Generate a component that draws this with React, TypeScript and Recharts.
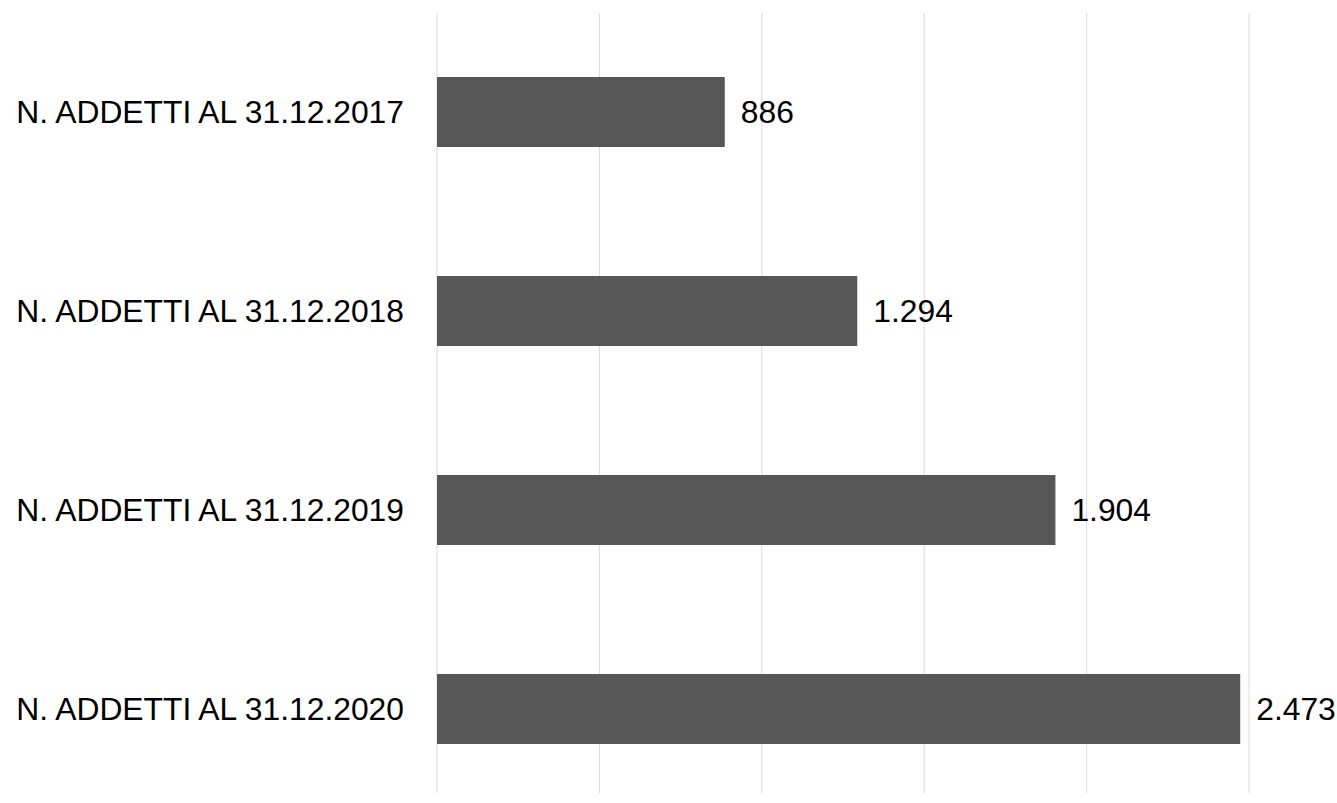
import { BarChart, Bar, XAxis, YAxis, CartesianGrid, LabelList } from 'recharts'

const categories = [
  'N. ADDETTI AL 31.12.2017',
  'N. ADDETTI AL 31.12.2018',
  'N. ADDETTI AL 31.12.2019',
  'N. ADDETTI AL 31.12.2020',
]
const addetti = [886, 1294, 1904, 2473]
const xTicks = [0, 500, 1000, 1500, 2000, 2500]

const data = categories.map((name, i) => ({ name, value: addetti[i] }))

const fmt = (v: number) => String(v).replace(/\B(?=(\d{3})+(?!\d))/g, '.')

const FONT = '"Liberation Sans", Arial, sans-serif'

/* grid lines stop a little above the bottom of the plot, like the original */
function GridLine(props: any) {
  const { x1, x2, y1, y2 } = props
  return <line x1={x1} x2={x2} y1={y1 + 1} y2={y2 - 15} stroke="#d9d9d9" strokeWidth={1} />
}

const NoTick = () => <g />

export default function App() {
  return (
    <div style={{ position: 'absolute', left: 0, top: 0, width: 1337, height: 803, overflow: 'hidden', background: '#fff' }}>
      <BarChart
        width={1337}
        height={810}
        data={data}
        layout="vertical"
        margin={{ top: 12, right: 88, left: 0, bottom: 2 }}
      >
        <CartesianGrid horizontal={false} vertical={GridLine} />
        <XAxis
          type="number"
          domain={[0, 2500]}
          ticks={xTicks}
          interval={0}
          tick={NoTick}
          tickLine={false}
          axisLine={false}
          height={0}
        />
        <YAxis
          type="category"
          dataKey="name"
          width={437}
          axisLine={false}
          tickLine={false}
          tickSize={0}
          tickMargin={33}
          tick={{ fontSize: 31.8, fill: '#000', fontFamily: FONT }}
        />
        <Bar dataKey="value" fill="#575757" barSize={70} isAnimationActive={false}>
          <LabelList
            dataKey="value"
            position="right"
            offset={16}
            formatter={(v: any) => fmt(Number(v))}
            style={{ fontSize: 31.8, fill: '#000', fontFamily: FONT }}
          />
        </Bar>
      </BarChart>
    </div>
  )
}
